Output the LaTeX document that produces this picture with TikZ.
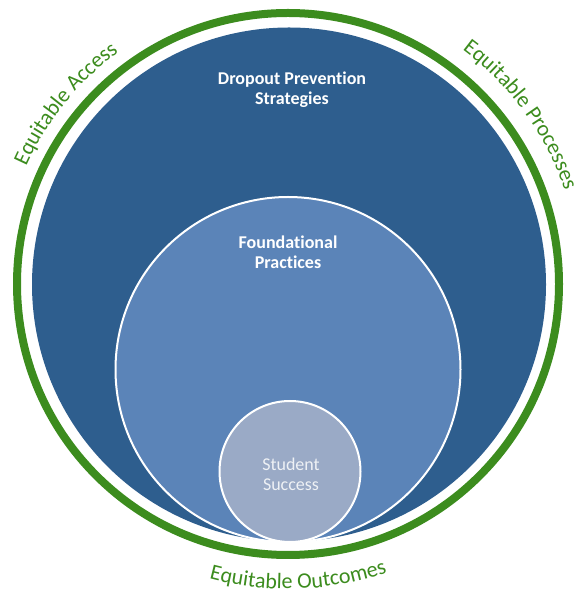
\documentclass[tikz,border=0pt]{standalone}
\usepackage{fontspec}
\setmainfont{Carlito}[Ligatures=NoCommon]
\usetikzlibrary{decorations.text}

\definecolor{ringgreen}{HTML}{3C8C1E}
\definecolor{outerblue}{HTML}{2E5E8E}
\definecolor{midblue}{HTML}{5B84B8}
\definecolor{coreblue}{HTML}{9AAAC6}
\definecolor{coretext}{HTML}{EEF1F5}

\newcommand\arclabelfont{\fontsize{22}{22}\selectfont}

\begin{document}
\begin{tikzpicture}[x=1pt, y=1pt,
  disc/.style={circle, inner sep=0pt, minimum size=#1},
  heading/.style={text=white, font=\fontsize{18}{20}\selectfont\bfseries, align=center, inner sep=0pt},
  coretitle/.style={text=coretext, font=\fontsize{18}{20}\selectfont, align=center, inner sep=0pt},
  arclabel/.style={decorate, decoration={text along path, text align=center,
      text color=ringgreen, text={|\arclabelfont|#1}}}]

  \useasboundingbox (0,0) rectangle (576,597);

  % centre of the ring
  \coordinate (ctr) at (288,313);

  % green ring and the three nested discs
  \node[disc=542pt, draw=ringgreen, line width=8pt] (ring) at (ctr) {};
  \node[disc=514pt, fill=outerblue] (outer) at (289,312.5) {};
  \node[disc=345pt, fill=midblue, draw=white, line width=2pt] (middle) at (288,227.5) {};
  \node[disc=141pt, fill=coreblue, draw=white, line width=2pt] (core) at (290,125.5) {};

  % titles
  \node[heading] (dropout) at (292,507) {Dropout Prevention\\Strategies};
  \node[heading] (found) at (288,345) {Foundational\\Practices};
  \node[coretitle] (student) at (291,123) {Student\\Success};

  % labels around the ring
  \path[arclabel={Equitable Access}]
    (ctr) ++(175:287) arc[start angle=175, end angle=107, radius=287];
  \path[arclabel={Equitable Processes}]
    (ctr) ++(70:292) arc[start angle=70, end angle=2, radius=292];
  \path[arclabel={Equitable Outcomes}]
    (ctr) ++(-123:305) arc[start angle=-123, end angle=-53, radius=305];
\end{tikzpicture}
\end{document}
